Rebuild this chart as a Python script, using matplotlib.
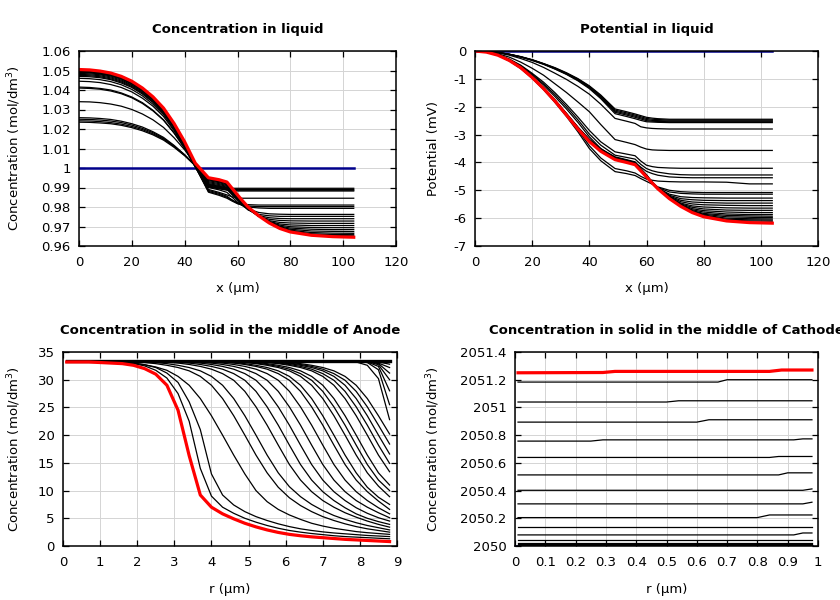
import matplotlib
matplotlib.use("Agg")
import matplotlib.pyplot as plt
from matplotlib.ticker import FuncFormatter

plt.rcParams['font.family'] = ['DejaVu Sans']
plt.rcParams['axes.unicode_minus'] = False

# ---------------- Panel 1: concentration in liquid ----------------
X_LIQ = [0, 4, 8, 12, 16, 20, 24, 28, 32, 36, 40, 44, 49, 53, 56, 58, 60, 62, 64, 68, 72, 76, 80, 88, 96, 104]
CONC_INIT = [1.0, 1.0, 1.0, 1.0, 1.0, 1.0, 1.0, 1.0, 1.0, 1.0, 1.0, 1.0, 1.0,
             1.0, 1.0, 1.0, 1.0, 1.0, 1.0, 1.0, 1.0, 1.0, 1.0, 1.0, 1.0, 1.0]
CONC_FINAL = ([1.0505, 1.0503, 1.0497, 1.0487, 1.0470, 1.0445, 1.0410, 1.0365, 1.0307, 1.0228, 1.0134, 1.0025]
              + [0.9950, 0.9940, 0.9928, 0.9895, 0.9862, 0.9830, 0.9800, 0.9755, 0.9718, 0.9690, 0.9672, 0.9655, 0.9648, 0.9645])
C1 = ([1.0235, 1.0234, 1.0231, 1.0227, 1.0219, 1.0207, 1.0191, 1.0170, 1.0143, 1.0106, 1.0063, 1.0012]
      + [0.9915, 0.9905, 0.9898, 0.9896, 0.9896, 0.9896, 0.9896, 0.9896, 0.9896, 0.9896, 0.9896, 0.9896, 0.9896, 0.9896])
C2 = ([1.0242, 1.0241, 1.0238, 1.0233, 1.0225, 1.0213, 1.0197, 1.0175, 1.0148, 1.0110, 1.0065, 1.0013]
      + [0.9910, 0.9900, 0.9893, 0.9890, 0.9890, 0.9890, 0.9890, 0.9890, 0.9890, 0.9890, 0.9890, 0.9890, 0.9890, 0.9890])
C3 = ([1.0250, 1.0249, 1.0246, 1.0241, 1.0233, 1.0220, 1.0203, 1.0181, 1.0152, 1.0113, 1.0067, 1.0013]
      + [0.9906, 0.9896, 0.9889, 0.9886, 0.9886, 0.9886, 0.9886, 0.9886, 0.9886, 0.9886, 0.9886, 0.9886, 0.9886, 0.9886])
C4 = ([1.0258, 1.0257, 1.0254, 1.0249, 1.0240, 1.0227, 1.0210, 1.0186, 1.0157, 1.0116, 1.0068, 1.0012]
      + [0.9903, 0.9893, 0.9886, 0.9883, 0.9882, 0.9882, 0.9882, 0.9882, 0.9882, 0.9882, 0.9882, 0.9882, 0.9882, 0.9882])
C5 = ([1.0340, 1.0339, 1.0335, 1.0328, 1.0317, 1.0300, 1.0277, 1.0247, 1.0208, 1.0155, 1.0093, 1.0020]
      + [0.9890, 0.9875, 0.9862, 0.9852, 0.9847, 0.9845, 0.9845, 0.9845, 0.9845, 0.9845, 0.9845, 0.9845, 0.9845, 0.9845])
C6 = ([1.0410, 1.0408, 1.0404, 1.0395, 1.0381, 1.0360, 1.0331, 1.0293, 1.0245, 1.0179, 1.0101, 1.0010]
      + [0.9880, 0.9865, 0.9850, 0.9835, 0.9822, 0.9815, 0.9812, 0.9810, 0.9810, 0.9810, 0.9810, 0.9810, 0.9810, 0.9810])
C7 = ([1.0415, 1.0413, 1.0408, 1.0400, 1.0385, 1.0364, 1.0335, 1.0296, 1.0247, 1.0180, 1.0101, 1.0008]
      + [0.9876, 0.9860, 0.9845, 0.9830, 0.9817, 0.9810, 0.9805, 0.9802, 0.9802, 0.9802, 0.9802, 0.9802, 0.9802, 0.9802])
C8 = ([1.0445, 1.0443, 1.0438, 1.0428, 1.0413, 1.0390, 1.0358, 1.0317, 1.0264, 1.0191, 1.0105, 1.0005]
      + [0.9885, 0.9870, 0.9855, 0.9836, 0.9818, 0.9808, 0.9800, 0.9795, 0.9793, 0.9793, 0.9793, 0.9793, 0.9793, 0.9793])
C9 = ([1.0460, 1.0458, 1.0453, 1.0443, 1.0427, 1.0403, 1.0370, 1.0327, 1.0273, 1.0197, 1.0109, 1.0005]
      + [0.9900, 0.9888, 0.9875, 0.9850, 0.9825, 0.9806, 0.9790, 0.9772, 0.9765, 0.9763, 0.9762, 0.9762, 0.9762, 0.9762])
C10 = ([1.0470, 1.0468, 1.0463, 1.0453, 1.0436, 1.0413, 1.0379, 1.0336, 1.0280, 1.0205, 1.0115, 1.0010]
       + [0.9908, 0.9898, 0.9890, 0.9862, 0.9835, 0.9808, 0.9785, 0.9762, 0.9755, 0.9752, 0.9752, 0.9752, 0.9752, 0.9752])
C11 = ([1.0475, 1.0473, 1.0468, 1.0457, 1.0441, 1.0417, 1.0384, 1.0340, 1.0284, 1.0208, 1.0118, 1.0012]
       + [0.9912, 0.9902, 0.9894, 0.9866, 0.9838, 0.9811, 0.9787, 0.9756, 0.9745, 0.9741, 0.9740, 0.9740, 0.9740, 0.9740])
C12 = ([1.0480, 1.0478, 1.0473, 1.0462, 1.0446, 1.0422, 1.0388, 1.0344, 1.0288, 1.0211, 1.0120, 1.0014]
       + [0.9916, 0.9906, 0.9898, 0.9870, 0.9842, 0.9814, 0.9789, 0.9752, 0.9737, 0.9731, 0.9729, 0.9728, 0.9728, 0.9728])
C13 = ([1.0485, 1.0483, 1.0478, 1.0467, 1.0451, 1.0426, 1.0393, 1.0348, 1.0292, 1.0214, 1.0123, 1.0016]
       + [0.9920, 0.9910, 0.9902, 0.9874, 0.9845, 0.9817, 0.9792, 0.9752, 0.9730, 0.9721, 0.9718, 0.9716, 0.9716, 0.9716])
C14 = ([1.0490, 1.0488, 1.0482, 1.0472, 1.0456, 1.0431, 1.0397, 1.0352, 1.0296, 1.0218, 1.0126, 1.0018]
       + [0.9925, 0.9915, 0.9906, 0.9878, 0.9848, 0.9820, 0.9794, 0.9753, 0.9726, 0.9713, 0.9708, 0.9705, 0.9705, 0.9705])
C15 = ([1.0492, 1.0490, 1.0484, 1.0474, 1.0458, 1.0433, 1.0399, 1.0354, 1.0298, 1.0220, 1.0128, 1.0020]
       + [0.9930, 0.9920, 0.9910, 0.9881, 0.9851, 0.9823, 0.9796, 0.9754, 0.9724, 0.9707, 0.9699, 0.9695, 0.9694, 0.9694])
C16 = ([1.0495, 1.0493, 1.0487, 1.0477, 1.0460, 1.0436, 1.0402, 1.0357, 1.0300, 1.0222, 1.0129, 1.0021]
       + [0.9935, 0.9925, 0.9914, 0.9884, 0.9854, 0.9825, 0.9797, 0.9754, 0.9722, 0.9702, 0.9692, 0.9686, 0.9684, 0.9684])
C17 = ([1.0498, 1.0496, 1.0490, 1.0480, 1.0463, 1.0439, 1.0404, 1.0359, 1.0302, 1.0223, 1.0131, 1.0022]
       + [0.9939, 0.9929, 0.9918, 0.9887, 0.9857, 0.9827, 0.9798, 0.9754, 0.9721, 0.9699, 0.9686, 0.9677, 0.9675, 0.9674])
C18 = ([1.0500, 1.0498, 1.0492, 1.0482, 1.0465, 1.0440, 1.0406, 1.0361, 1.0303, 1.0225, 1.0132, 1.0023]
       + [0.9942, 0.9932, 0.9921, 0.9890, 0.9859, 0.9829, 0.9799, 0.9755, 0.9720, 0.9696, 0.9681, 0.9669, 0.9666, 0.9665])
C19 = ([1.0502, 1.0500, 1.0494, 1.0484, 1.0467, 1.0442, 1.0408, 1.0362, 1.0305, 1.0226, 1.0133, 1.0024]
       + [0.9945, 0.9935, 0.9924, 0.9892, 0.9860, 0.9830, 0.9799, 0.9755, 0.9719, 0.9693, 0.9677, 0.9663, 0.9659, 0.9658])
C20 = ([1.0503, 1.0501, 1.0495, 1.0485, 1.0468, 1.0443, 1.0409, 1.0363, 1.0306, 1.0227, 1.0133, 1.0024]
       + [0.9947, 0.9937, 0.9926, 0.9893, 0.9861, 0.9830, 0.9800, 0.9755, 0.9718, 0.9691, 0.9674, 0.9659, 0.9654, 0.9652])
CONC_LIQ_CURVES = [C1, C2, C3, C4, C5, C6, C7, C8, C9, C10, C11, C12, C13, C14,
                   C15, C16, C17, C18, C19, C20]

# ---------------- Panel 2: potential in liquid ----------------
POT_INIT = [0, 0, 0, 0, 0, 0, 0, 0, 0, 0, 0, 0, 0, 0, 0, 0, 0, 0, 0, 0, 0, 0, 0, 0, 0, 0]
POT_FINAL = ([0, -0.04, -0.15, -0.34, -0.6, -0.95, -1.35, -1.8, -2.3, -2.8, -3.25, -3.6, -3.9]
             + [-4.0, -4.08, -4.3, -4.52, -4.74, -4.95, -5.3, -5.58, -5.8, -5.95, -6.1, -6.16, -6.18])
PA1 = ([0, -0.012, -0.05, -0.114, -0.2, -0.31, -0.45, -0.6, -0.78, -0.99, -1.25, -1.58, -2.08]
       + [-2.18, -2.26, -2.32, -2.38, -2.41, -2.43, -2.45, -2.45, -2.45, -2.45, -2.45, -2.45, -2.45])
PA2 = ([0, -0.013, -0.051, -0.117, -0.21, -0.32, -0.46, -0.61, -0.8, -1.01, -1.27, -1.61, -2.12]
       + [-2.22, -2.3, -2.36, -2.42, -2.45, -2.46, -2.48, -2.48, -2.48, -2.48, -2.48, -2.48, -2.48])
PA3 = ([0, -0.013, -0.052, -0.119, -0.21, -0.32, -0.46, -0.63, -0.81, -1.03, -1.3, -1.64, -2.16]
       + [-2.26, -2.34, -2.4, -2.46, -2.49, -2.5, -2.51, -2.51, -2.51, -2.51, -2.51, -2.51, -2.51])
PA4 = ([0, -0.013, -0.053, -0.121, -0.21, -0.33, -0.47, -0.64, -0.83, -1.05, -1.32, -1.67, -2.2]
       + [-2.3, -2.38, -2.44, -2.5, -2.52, -2.53, -2.54, -2.54, -2.54, -2.54, -2.54, -2.54, -2.54])
PA5 = ([0, -0.014, -0.054, -0.124, -0.22, -0.34, -0.48, -0.65, -0.84, -1.07, -1.35, -1.71, -2.25]
       + [-2.35, -2.43, -2.49, -2.54, -2.55, -2.56, -2.57, -2.57, -2.57, -2.57, -2.57, -2.57, -2.57])
PB = ([0, -0.017, -0.065, -0.15, -0.27, -0.41, -0.59, -0.8, -1.02, -1.27, -1.55, -1.91, -2.42]
      + [-2.52, -2.6, -2.72, -2.76, -2.78, -2.79, -2.8, -2.8, -2.8, -2.8, -2.8, -2.8, -2.8])
PC = ([0, -0.025, -0.1, -0.22, -0.4, -0.62, -0.87, -1.18, -1.49, -1.83, -2.18, -2.64, -3.18]
      + [-3.28, -3.36, -3.45, -3.52, -3.55, -3.56, -3.57, -3.57, -3.57, -3.57, -3.57, -3.57, -3.57])
PD1 = ([0, -0.033, -0.13, -0.29, -0.51, -0.8, -1.12, -1.5, -1.92, -2.37, -2.85, -3.26, -3.62]
       + [-3.7, -3.76, -3.95, -4.1, -4.15, -4.18, -4.2, -4.21, -4.21, -4.21, -4.21, -4.21, -4.21])
PD2 = ([0, -0.034, -0.13, -0.3, -0.53, -0.83, -1.18, -1.57, -2.0, -2.47, -2.98, -3.38, -3.74]
       + [-3.82, -3.88, -4.07, -4.22, -4.3, -4.35, -4.41, -4.44, -4.45, -4.45, -4.45, -4.45, -4.45])
PD3 = ([0, -0.035, -0.14, -0.32, -0.56, -0.87, -1.22, -1.64, -2.08, -2.56, -3.08, -3.5, -3.85]
       + [-3.94, -4.0, -4.17, -4.32, -4.4, -4.46, -4.52, -4.54, -4.55, -4.55, -4.55, -4.55, -4.55])
PD4 = ([0, -0.038, -0.15, -0.35, -0.62, -0.95, -1.35, -1.81, -2.29, -2.83, -3.4, -3.84, -4.22]
       + [-4.3, -4.38, -4.5, -4.6, -4.64, -4.67, -4.69, -4.7, -4.7, -4.7, -4.71, -4.77, -4.77])
PE1 = ([0, -0.039, -0.156, -0.355, -0.63, -0.98, -1.39, -1.85, -2.35, -2.9, -3.5, -3.94, -4.33]
       + [-4.4, -4.47, -4.58, -4.68, -4.78, -4.88, -5.0, -5.05, -5.07, -5.08, -5.08, -5.08, -5.08])
PF1 = ([0, -0.038, -0.144, -0.33, -0.585, -0.93, -1.31, -1.76, -2.24, -2.73, -3.17, -3.51, -3.8]
       + [-3.9, -3.98, -4.22, -4.44, -4.7, -4.9, -5.06, -5.11, -5.13, -5.14, -5.14, -5.14, -5.14])
PF2 = ([0, -0.038, -0.145, -0.33, -0.59, -0.93, -1.32, -1.76, -2.25, -2.74, -3.18, -3.53, -3.82]
       + [-3.92, -4.0, -4.24, -4.46, -4.72, -4.92, -5.14, -5.23, -5.26, -5.27, -5.28, -5.28, -5.28])
PF3 = ([0, -0.038, -0.146, -0.333, -0.59, -0.93, -1.33, -1.77, -2.26, -2.75, -3.19, -3.54, -3.83]
       + [-3.93, -4.01, -4.25, -4.47, -4.73, -4.93, -5.18, -5.3, -5.34, -5.36, -5.37, -5.37, -5.37])
PF4 = ([0, -0.039, -0.146, -0.335, -0.59, -0.94, -1.33, -1.78, -2.27, -2.76, -3.21, -3.55, -3.85]
       + [-3.95, -4.03, -4.26, -4.48, -4.73, -4.93, -5.21, -5.36, -5.42, -5.44, -5.46, -5.46, -5.46])
PF5 = ([0, -0.039, -0.147, -0.336, -0.59, -0.94, -1.34, -1.78, -2.28, -2.77, -3.22, -3.56, -3.86]
       + [-3.96, -4.04, -4.27, -4.49, -4.74, -4.94, -5.23, -5.41, -5.49, -5.52, -5.54, -5.55, -5.55])
PF6 = ([0, -0.039, -0.147, -0.337, -0.6, -0.94, -1.34, -1.79, -2.28, -2.78, -3.22, -3.57, -3.87]
       + [-3.97, -4.05, -4.28, -4.5, -4.74, -4.94, -5.25, -5.46, -5.56, -5.6, -5.63, -5.64, -5.64])
PF7 = ([0, -0.039, -0.147, -0.338, -0.6, -0.95, -1.34, -1.79, -2.29, -2.79, -3.23, -3.58, -3.88]
       + [-3.98, -4.06, -4.28, -4.5, -4.74, -4.94, -5.26, -5.49, -5.61, -5.67, -5.71, -5.72, -5.72])
PF8 = ([0, -0.039, -0.147, -0.338, -0.6, -0.95, -1.34, -1.79, -2.29, -2.79, -3.23, -3.58, -3.88]
       + [-3.98, -4.06, -4.29, -4.51, -4.75, -4.95, -5.27, -5.51, -5.66, -5.73, -5.78, -5.8, -5.8])
PF9 = ([0, -0.039, -0.148, -0.338, -0.6, -0.95, -1.35, -1.8, -2.3, -2.79, -3.24, -3.59, -3.89]
       + [-3.99, -4.07, -4.29, -4.51, -4.75, -4.95, -5.28, -5.53, -5.7, -5.78, -5.85, -5.87, -5.87])
PF10 = ([0, -0.039, -0.148, -0.338, -0.6, -0.95, -1.35, -1.8, -2.3, -2.79, -3.24, -3.59, -3.89]
        + [-3.99, -4.07, -4.3, -4.52, -4.75, -4.95, -5.28, -5.54, -5.73, -5.83, -5.9, -5.92, -5.93])
PF11 = ([0, -0.039, -0.148, -0.338, -0.6, -0.95, -1.35, -1.8, -2.3, -2.79, -3.24, -3.59, -3.89]
        + [-3.99, -4.07, -4.3, -4.52, -4.75, -4.95, -5.29, -5.55, -5.75, -5.86, -5.95, -5.97, -5.98])
PF12 = ([0, -0.039, -0.148, -0.339, -0.6, -0.95, -1.35, -1.8, -2.3, -2.8, -3.25, -3.6, -3.9]
        + [-4.0, -4.08, -4.3, -4.52, -4.75, -4.95, -5.29, -5.56, -5.77, -5.89, -6.0, -6.02, -6.03])
PF13 = ([0, -0.039, -0.148, -0.339, -0.6, -0.95, -1.35, -1.8, -2.3, -2.8, -3.25, -3.6, -3.9]
        + [-4.0, -4.08, -4.3, -4.52, -4.75, -4.95, -5.3, -5.57, -5.78, -5.91, -6.04, -6.06, -6.07])
PF14 = ([0, -0.039, -0.148, -0.339, -0.6, -0.95, -1.35, -1.8, -2.3, -2.8, -3.25, -3.6, -3.9]
        + [-4.0, -4.08, -4.3, -4.52, -4.75, -4.95, -5.3, -5.57, -5.79, -5.93, -6.07, -6.1, -6.11])
POT_CURVES = [PA1, PA2, PA3, PA4, PA5, PB, PC, PD1, PD2, PD3, PD4, PE1,
              PF1, PF2, PF3, PF4, PF5, PF6, PF7, PF8, PF9, PF10, PF11, PF12, PF13, PF14]

# ---------------- Panel 3: solid concentration, anode ----------------
R_AN = [0.1, 0.4, 0.7, 1.0, 1.3, 1.6, 1.9, 2.2, 2.5, 2.8, 3.1, 3.4, 3.7, 4.0, 4.3,
        4.6, 4.9, 5.2, 5.5, 5.8, 6.1, 6.4, 6.7, 7.0, 7.3, 7.6, 7.9, 8.2, 8.5, 8.8]
AN_INIT = [33.4, 33.4, 33.4, 33.4, 33.4, 33.4, 33.4, 33.4, 33.4, 33.4, 33.4, 33.4, 33.4, 33.4, 33.4,
           33.4, 33.4, 33.4, 33.4, 33.4, 33.4, 33.4, 33.4, 33.4, 33.4, 33.4, 33.4, 33.4, 33.4, 33.4]
AN_FINAL = [33.2, 33.2, 33.2, 33.1, 33.0, 32.9, 32.6, 32.0, 31.0, 29.0, 24.5, 16.3, 9.2, 7.0, 5.8,
            4.9, 4.1, 3.45, 2.9, 2.45, 2.1, 1.85, 1.65, 1.5, 1.35, 1.2, 1.1, 1.0, 0.9, 0.8]
A1 = [33.3, 33.3, 33.3, 33.3, 33.2, 33.1, 32.9, 32.5, 31.7, 30.3, 27.5, 22.5, 14.0, 9.0, 7.0,
      5.9, 5.0, 4.3, 3.7, 3.2, 2.8, 2.5, 2.25, 2.05, 1.85, 1.7, 1.6, 1.5, 1.4, 1.3]
A2 = [33.3, 33.3, 33.3, 33.3, 33.3, 33.2, 33.0, 32.7, 32.2, 31.2, 29.5, 26.0, 21.0, 13.0, 9.2,
      7.4, 6.2, 5.3, 4.6, 4.0, 3.5, 3.1, 2.8, 2.55, 2.35, 2.2, 2.05, 1.9, 1.8, 1.7]
A3 = [33.3, 33.3, 33.3, 33.3, 33.3, 33.2, 33.0, 32.7, 32.3, 31.7, 30.6, 29.0, 26.6, 23.5, 20.0,
      16.4, 13.0, 10.0, 8.0, 6.6, 5.6, 4.8, 4.1, 3.6, 3.2, 2.9, 2.6, 2.4, 2.25, 2.1]
A4 = [33.3, 33.3, 33.3, 33.3, 33.3, 33.3, 33.2, 33.1, 32.9, 32.6, 32.2, 31.6, 30.6, 29.0, 26.6,
      23.5, 20.0, 16.4, 13.2, 10.6, 8.7, 7.3, 6.2, 5.3, 4.6, 4.0, 3.5, 3.1, 2.8, 2.5]
A5 = [33.3, 33.3, 33.3, 33.3, 33.3, 33.3, 33.3, 33.2, 33.1, 32.9, 32.6, 32.2, 31.6, 30.6, 29.0,
      26.6, 23.5, 20.0, 16.4, 13.2, 10.7, 8.9, 7.5, 6.4, 5.5, 4.8, 4.2, 3.7, 3.3, 2.9]
A6 = [33.3, 33.3, 33.3, 33.3, 33.3, 33.3, 33.3, 33.3, 33.25, 33.15, 33.0, 32.75, 32.4, 31.9, 31.1,
      29.9, 27.9, 25.1, 21.8, 18.2, 14.7, 11.9, 9.8, 8.2, 7.0, 6.0, 5.2, 4.5, 3.9, 3.4]
A7 = [33.3, 33.3, 33.3, 33.3, 33.3, 33.3, 33.3, 33.3, 33.3, 33.25, 33.15, 33.0, 32.75, 32.4, 31.9,
      31.1, 29.9, 27.9, 25.1, 21.8, 18.2, 14.7, 11.9, 9.8, 8.2, 6.9, 5.8, 5.0, 4.4, 3.9]
A8 = [33.3, 33.3, 33.3, 33.3, 33.3, 33.3, 33.3, 33.3, 33.3, 33.3, 33.25, 33.15, 33.0, 32.75, 32.4,
      31.9, 31.1, 29.9, 27.9, 25.1, 21.8, 18.2, 14.7, 11.9, 9.8, 8.2, 6.9, 5.9, 5.1, 4.5]
A9 = [33.3, 33.3, 33.3, 33.3, 33.3, 33.3, 33.3, 33.3, 33.3, 33.3, 33.3, 33.25, 33.15, 33.0, 32.75,
      32.4, 31.9, 31.1, 29.9, 27.9, 25.1, 21.8, 18.2, 14.7, 11.9, 9.8, 8.2, 7.0, 6.0, 5.1]
A10 = [33.3, 33.3, 33.3, 33.3, 33.3, 33.3, 33.3, 33.3, 33.3, 33.3, 33.3, 33.3, 33.25, 33.15, 33.0,
       32.75, 32.4, 31.9, 31.1, 29.9, 27.9, 25.1, 21.8, 18.2, 14.7, 11.9, 9.8, 8.2, 6.9, 5.8]
A11 = [33.3, 33.3, 33.3, 33.3, 33.3, 33.3, 33.3, 33.3, 33.3, 33.3, 33.3, 33.3, 33.3, 33.25, 33.15,
       33.0, 32.75, 32.4, 31.9, 31.1, 29.9, 27.9, 25.1, 21.8, 18.2, 14.7, 11.9, 9.8, 8.1, 6.6]
A12 = [33.3, 33.3, 33.3, 33.3, 33.3, 33.3, 33.3, 33.3, 33.3, 33.3, 33.3, 33.3, 33.3, 33.3, 33.2,
       33.1, 32.9, 32.6, 32.2, 31.6, 30.6, 29.0, 26.6, 23.5, 20.0, 16.4, 13.2, 10.6, 8.8, 7.5]
A13 = [33.3, 33.3, 33.3, 33.3, 33.3, 33.3, 33.3, 33.3, 33.3, 33.3, 33.3, 33.3, 33.3, 33.3, 33.3,
       33.2, 33.1, 32.9, 32.6, 32.2, 31.6, 30.6, 29.0, 26.6, 23.5, 20.0, 16.4, 13.2, 10.8, 8.9]
A14 = [33.3, 33.3, 33.3, 33.3, 33.3, 33.3, 33.3, 33.3, 33.3, 33.3, 33.3, 33.3, 33.3, 33.3, 33.3,
       33.25, 33.15, 33.0, 32.75, 32.4, 31.9, 31.1, 29.9, 27.9, 25.1, 21.8, 18.2, 14.7, 11.9, 10.0]
A15 = [33.3, 33.3, 33.3, 33.3, 33.3, 33.3, 33.3, 33.3, 33.3, 33.3, 33.3, 33.3, 33.3, 33.3, 33.3,
       33.3, 33.2, 33.1, 32.9, 32.6, 32.2, 31.6, 30.6, 29.0, 26.6, 23.5, 20.0, 16.4, 13.2, 11.0]
A16 = [33.3, 33.3, 33.3, 33.3, 33.3, 33.3, 33.3, 33.3, 33.3, 33.3, 33.3, 33.3, 33.3, 33.3, 33.3,
       33.3, 33.3, 33.2, 33.1, 32.9, 32.6, 32.2, 31.6, 30.6, 29.0, 26.6, 23.5, 20.0, 16.4, 13.4]
A17 = [33.3, 33.3, 33.3, 33.3, 33.3, 33.3, 33.3, 33.3, 33.3, 33.3, 33.3, 33.3, 33.3, 33.3, 33.3,
       33.3, 33.3, 33.25, 33.15, 33.0, 32.75, 32.4, 31.9, 31.1, 29.9, 27.9, 25.1, 21.8, 18.2, 14.9]
A18 = [33.3, 33.3, 33.3, 33.3, 33.3, 33.3, 33.3, 33.3, 33.3, 33.3, 33.3, 33.3, 33.3, 33.3, 33.3,
       33.3, 33.3, 33.3, 33.2, 33.1, 32.9, 32.6, 32.2, 31.6, 30.6, 29.0, 26.6, 23.5, 20.0, 16.6]
A19 = [33.3, 33.3, 33.3, 33.3, 33.3, 33.3, 33.3, 33.3, 33.3, 33.3, 33.3, 33.3, 33.3, 33.3, 33.3,
       33.3, 33.3, 33.3, 33.25, 33.15, 33.0, 32.75, 32.4, 31.9, 31.1, 29.9, 27.9, 25.1, 21.8, 18.4]
A20 = [33.3, 33.3, 33.3, 33.3, 33.3, 33.3, 33.3, 33.3, 33.3, 33.3, 33.3, 33.3, 33.3, 33.3, 33.3,
       33.3, 33.3, 33.3, 33.3, 33.2, 33.1, 32.9, 32.6, 32.2, 31.6, 30.6, 29.0, 26.6, 23.5, 20.2]
A21 = [33.3, 33.3, 33.3, 33.3, 33.3, 33.3, 33.3, 33.3, 33.3, 33.3, 33.3, 33.3, 33.3, 33.3, 33.3,
       33.3, 33.3, 33.3, 33.3, 33.3, 33.3, 33.3, 33.3, 33.3, 33.3, 33.3, 33.2, 32.6, 30.2, 22.8]
A22 = [33.3, 33.3, 33.3, 33.3, 33.3, 33.3, 33.3, 33.3, 33.3, 33.3, 33.3, 33.3, 33.3, 33.3, 33.3,
       33.3, 33.3, 33.3, 33.3, 33.3, 33.3, 33.3, 33.3, 33.3, 33.3, 33.3, 33.3, 33.1, 31.8, 25.5]
A23 = [33.3, 33.3, 33.3, 33.3, 33.3, 33.3, 33.3, 33.3, 33.3, 33.3, 33.3, 33.3, 33.3, 33.3, 33.3,
       33.3, 33.3, 33.3, 33.3, 33.3, 33.3, 33.3, 33.3, 33.3, 33.3, 33.3, 33.3, 33.2, 32.4, 28.0]
A24 = [33.3, 33.3, 33.3, 33.3, 33.3, 33.3, 33.3, 33.3, 33.3, 33.3, 33.3, 33.3, 33.3, 33.3, 33.3,
       33.3, 33.3, 33.3, 33.3, 33.3, 33.3, 33.3, 33.3, 33.3, 33.3, 33.3, 33.3, 33.3, 32.7, 30.0]
A25 = [33.3, 33.3, 33.3, 33.3, 33.3, 33.3, 33.3, 33.3, 33.3, 33.3, 33.3, 33.3, 33.3, 33.3, 33.3,
       33.3, 33.3, 33.3, 33.3, 33.3, 33.3, 33.3, 33.3, 33.3, 33.3, 33.3, 33.3, 33.3, 32.9, 31.2]
A26 = [33.3, 33.3, 33.3, 33.3, 33.3, 33.3, 33.3, 33.3, 33.3, 33.3, 33.3, 33.3, 33.3, 33.3, 33.3,
       33.3, 33.3, 33.3, 33.3, 33.3, 33.3, 33.3, 33.3, 33.3, 33.3, 33.3, 33.3, 33.3, 33.0, 32.2]
A27 = [33.3, 33.3, 33.3, 33.3, 33.3, 33.3, 33.3, 33.3, 33.3, 33.3, 33.3, 33.3, 33.3, 33.3, 33.3,
       33.3, 33.3, 33.3, 33.3, 33.3, 33.3, 33.3, 33.3, 33.3, 33.3, 33.3, 33.3, 33.3, 33.2, 32.8]
AN_CURVES = [A27, A26, A25, A24, A23, A22, A21, A20, A19, A18, A17, A16, A15, A14,
             A13, A12, A11, A10, A9, A8, A7, A6, A5, A4, A3, A2, A1]

# ---------------- Panel 4: solid concentration, cathode ----------------
CA_INIT_R = [0.0, 0.98]
CA_INIT_C = [2050.0, 2050.0]
CA_FINAL_R = [0.01, 0.29, 0.33, 0.84, 0.88, 0.98]
CA_FINAL_C = [2051.250, 2051.252, 2051.260, 2051.260, 2051.270, 2051.270]
CA_R = [
    [0.01, 0.67, 0.70, 0.98],
    [0.01, 0.50, 0.54, 0.98],
    [0.01, 0.60, 0.64, 0.98],
    [0.01, 0.25, 0.29, 0.92, 0.95, 0.98],
    [0.01, 0.84, 0.87, 0.98],
    [0.01, 0.87, 0.90, 0.98],
    [0.01, 0.95, 0.98],
    [0.01, 0.95, 0.98],
    [0.01, 0.80, 0.84, 0.98],
    [0.01, 0.98],
    [0.01, 0.92, 0.95, 0.98],
    [0.01, 0.98],
    [0.01, 0.98],
    [0.01, 0.98],
    [0.01, 0.98],
    [0.01, 0.98],
]
CA_C = [
    [2051.183, 2051.183, 2051.200, 2051.200],
    [2051.039, 2051.039, 2051.048, 2051.048],
    [2050.894, 2050.894, 2050.911, 2050.911],
    [2050.757, 2050.757, 2050.766, 2050.766, 2050.773, 2050.773],
    [2050.639, 2050.639, 2050.646, 2050.646],
    [2050.513, 2050.513, 2050.528, 2050.528],
    [2050.402, 2050.402, 2050.412],
    [2050.304, 2050.304, 2050.316],
    [2050.205, 2050.205, 2050.224, 2050.224],
    [2050.140, 2050.140],
    [2050.080, 2050.080, 2050.094, 2050.094],
    [2050.043, 2050.043],
    [2050.024, 2050.024],
    [2050.012, 2050.012],
    [2050.005, 2050.005],
    [2050.001, 2050.001],
]

# ---------------- figure ----------------
W, H = 840, 600
fig = plt.figure(figsize=(8.4, 6.0), dpi=100)


def px_axes(left, top, right, bottom):
    return fig.add_axes([left / W, 1 - bottom / H, (right - left) / W, (bottom - top) / H])


ax1 = px_axes(79, 51, 396, 246)
ax2 = px_axes(475, 51, 818, 246)
ax3 = px_axes(63, 352, 397, 546)
ax4 = px_axes(515, 352, 818, 546)

BLK = dict(color='black', lw=0.9, zorder=3)
RED = dict(color='#ff0000', lw=2.3, zorder=5)
INIT = dict(color='#00008b', lw=1.8, zorder=2)

fmt = FuncFormatter(lambda v, p: '%g' % round(v, 6))


def style(ax, xlim, xticks, ylim, yticks, xlabel, ylabel, title, ylx, xly):
    ax.set_xlim(*xlim)
    ax.set_ylim(*ylim)
    ax.set_xticks(xticks)
    ax.set_yticks(yticks)
    ax.xaxis.set_major_formatter(fmt)
    ax.yaxis.set_major_formatter(fmt)
    ax.grid(True, color='#d4d4d4', lw=0.7)
    ax.set_axisbelow(True)
    ax.tick_params(direction='in', top=True, right=True, length=4, width=0.9,
                   labelsize=9.5, colors='black')
    ax.tick_params(axis='x', pad=7)
    ax.tick_params(axis='y', pad=6)
    for s in ax.spines.values():
        s.set_linewidth(1.1)
        s.set_zorder(6)
    ax.set_title(title, fontsize=9.5, fontweight='bold', pad=13)
    ax.set_xlabel(xlabel, fontsize=9.5, va='center')
    ax.xaxis.set_label_coords(0.5, xly)
    ax.set_ylabel(ylabel, fontsize=9.5, va='center')
    ax.yaxis.set_label_coords(ylx, 0.5)


# Panel 1
ax1.plot(X_LIQ, CONC_INIT, **INIT)
for c in CONC_LIQ_CURVES:
    ax1.plot(X_LIQ, c, **BLK)
ax1.plot(X_LIQ, CONC_FINAL, **RED)
style(ax1, (0, 120), range(0, 121, 20), (0.96, 1.06),
      [0.96 + 0.01 * i for i in range(11)],
      'x (µm)', 'Concentration (mol/dm$^3$)', 'Concentration in liquid', -0.205, -0.22)

# Panel 2
ax2.plot(X_LIQ, POT_INIT, **INIT)
for c in POT_CURVES:
    ax2.plot(X_LIQ, c, **BLK)
ax2.plot(X_LIQ, POT_FINAL, **RED)
style(ax2, (0, 120), range(0, 121, 20), (-7, 0), range(-7, 1),
      'x (µm)', 'Potential (mV)', 'Potential in liquid', -0.122, -0.22)

# Panel 3
ax3.plot(R_AN, AN_INIT, color='black', lw=2.4, zorder=3)
for c in AN_CURVES:
    ax3.plot(R_AN, c, **BLK)
ax3.plot(R_AN, AN_FINAL, **RED)
style(ax3, (0, 9), range(0, 10), (0, 35), range(0, 36, 5),
      'r (µm)', 'Concentration (mol/dm$^3$)',
      'Concentration in solid in the middle of Anode', -0.147, -0.222)

# Panel 4
ax4.plot(CA_INIT_R, CA_INIT_C, **INIT)
for rr, cc in zip(CA_R, CA_C):
    ax4.plot(rr, cc, **BLK)
ax4.plot(CA_FINAL_R, CA_FINAL_C, **RED)
style(ax4, (0, 1), [0.1 * i for i in range(11)], (2050, 2051.4),
      [2050 + 0.2 * i for i in range(8)],
      'r (µm)', 'Concentration (mol/dm$^3$)',
      'Concentration in solid in the middle of Cathode', -0.27, -0.222)

fig.savefig('out.png', dpi=100)
